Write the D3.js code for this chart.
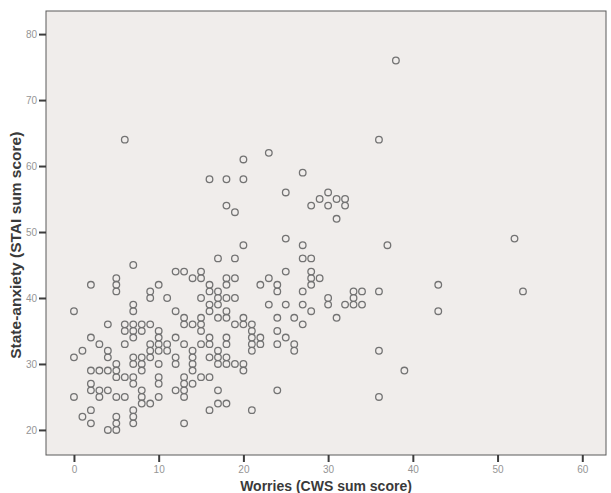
<!DOCTYPE html>
<meta charset="utf-8" />
<script src="https://d3js.org/d3.v7.min.js"></script>
<style>
    body { margin: 0; background: #fff; }
</style>
<div id="my_dataviz"></div>

<script>
    // Worries (CWS) and state-anxiety (STAI) sum scores, one entry per child
    const worries = [
        0, 0, 0,
        1, 1,
        2, 2, 2, 2, 2, 2, 2,
        3, 3, 3, 3,
        4, 4, 4, 4, 4, 4,
        5, 5, 5, 5, 5, 5, 5, 5, 5, 5,
        6, 6, 6, 6, 6, 6,
        7, 7, 7, 7, 7, 7, 7, 7, 7, 7, 7, 7, 7,
        8, 8, 8, 8, 8, 8, 8, 8,
        9, 9, 9, 9, 9, 9, 9,
        10, 10, 10, 10, 10, 10, 10, 10, 10,
        11, 11, 11,
        12, 12, 12, 12, 12, 12,
        13, 13, 13, 13, 13, 13, 13, 13, 13,
        14, 14, 14, 14, 14, 14, 14,
        15, 15, 15, 15, 15, 15, 15, 15,
        16, 16, 16, 16, 16, 16, 16, 16, 16, 16,
        17, 17, 17, 17, 17, 17, 17, 17, 17, 17,
        18, 18, 18, 18, 18, 18, 18, 18, 18, 18, 18, 18,
        19, 19, 19, 19, 19, 19,
        20, 20, 20, 20, 20, 20, 20,
        21, 21, 21, 21, 21, 21,
        22, 22, 22,
        23, 23, 23,
        24, 24, 24, 24, 24, 24,
        25, 25, 25, 25, 25,
        26, 26, 26,
        27, 27, 27, 27, 27, 27,
        28, 28, 28, 28, 28, 28,
        29, 29,
        30, 30, 30, 30,
        31, 31, 31,
        32, 32, 32,
        33, 33, 33,
        34, 34,
        36, 36, 36, 36,
        37, 38, 39,
        43, 43,
        52, 53
    ]
    const anxiety = [
        38, 31, 25,
        32, 22,
        42, 34, 29, 27, 26, 23, 21,
        33, 29, 26, 25,
        36, 32, 31, 29, 26, 20,
        43, 42, 41, 30, 29, 28, 25, 22, 21, 20,
        64, 36, 35, 33, 28, 25,
        45, 39, 38, 36, 35, 34, 31, 30, 28, 27, 23, 22, 21,
        36, 35, 31, 30, 29, 26, 25, 24,
        41, 40, 36, 33, 32, 31, 24,
        42, 35, 34, 33, 32, 30, 28, 27, 25,
        40, 33, 32,
        44, 38, 34, 31, 30, 26,
        44, 37, 36, 33, 28, 27, 26, 25, 21,
        43, 36, 32, 31, 30, 29, 27,
        44, 43, 40, 37, 36, 35, 33, 28,
        58, 42, 41, 39, 38, 34, 33, 31, 28, 23,
        46, 41, 40, 39, 37, 32, 31, 30, 26, 24,
        58, 54, 43, 42, 40, 38, 37, 34, 33, 31, 30, 24,
        53, 46, 43, 40, 36, 30,
        61, 58, 48, 37, 36, 30, 29,
        36, 35, 34, 33, 32, 23,
        42, 34, 33,
        62, 43, 39,
        42, 41, 37, 35, 33, 26,
        56, 49, 44, 39, 34,
        37, 33, 32,
        59, 48, 46, 41, 39, 36,
        54, 46, 44, 43, 42, 38,
        55, 43,
        56, 54, 40, 39,
        55, 52, 37,
        55, 54, 39,
        41, 40, 39,
        41, 39,
        64, 41, 32, 25,
        48, 76, 29,
        42, 38,
        49, 41
    ]
    const xTicks = [0, 10, 20, 30, 40, 50, 60]
    const yTicks = [20, 30, 40, 50, 60, 70, 80]

    const margin = { top: 11, right: 5, bottom: 38, left: 46 },
        width = 611 - margin.left - margin.right,
        height = 493 - margin.top - margin.bottom

    const svg = d3
        .select('#my_dataviz')
        .append('svg')
        .attr('width', 611)
        .attr('height', 493)
        .append('g')
        .attr('transform', `translate(${margin.left},${margin.top})`)

    const x = d3.scaleLinear().domain([-3.3, 62.8]).range([0, width])
    const y = d3.scaleLinear().domain([16.2, 83.5]).range([height, 0])

    // plot background + frame
    svg.append('rect')
        .attr('width', width)
        .attr('height', height)
        .attr('fill', '#f0edeb')
        .attr('stroke', '#5a5a5a')
        .attr('stroke-width', 1)

    // axes
    const xAxis = svg.append('g')
        .attr('transform', 'translate(0,' + height + ')')
        .call(d3.axisBottom(x).tickValues(xTicks).tickSize(7).tickPadding(4))
    const yAxis = svg.append('g')
        .call(d3.axisLeft(y).tickValues(yTicks).tickSize(7).tickPadding(2))

    ;[xAxis, yAxis].forEach((g) => {
        g.select('.domain').remove()
        g.selectAll('line').attr('stroke', '#3c3c3c').attr('stroke-width', 2)
        g.selectAll('text')
            .attr('fill', '#959595')
            .attr('font-family', 'Liberation Sans, Arial, sans-serif')
            .attr('font-size', '10px')
    })

    // points
    svg.selectAll('.pt')
        .data(worries)
        .join('circle')
        .attr('class', 'pt')
        .attr('cx', (d) => x(d))
        .attr('cy', (d, i) => y(anxiety[i]))
        .attr('r', 3.3)
        .attr('fill', 'none')
        .attr('stroke', '#737373')
        .attr('stroke-width', 1.3)

    // axis titles
    svg.append('text')
        .attr('x', width / 2)
        .attr('y', height + 36)
        .attr('text-anchor', 'middle')
        .attr('font-family', 'Liberation Sans, Arial, sans-serif')
        .attr('font-weight', 'bold')
        .attr('font-size', '14px')
        .attr('fill', '#3a3a3a')
        .text('Worries (CWS sum score)')

    svg.append('text')
        .attr('transform', `translate(${-margin.left + 21},${y(48)}) rotate(-90)`)
        .attr('text-anchor', 'middle')
        .attr('font-family', 'Liberation Sans, Arial, sans-serif')
        .attr('font-weight', 'bold')
        .attr('font-size', '15.5px')
        .attr('fill', '#3a3a3a')
        .text('State-anxiety (STAI sum score)')
</script>
